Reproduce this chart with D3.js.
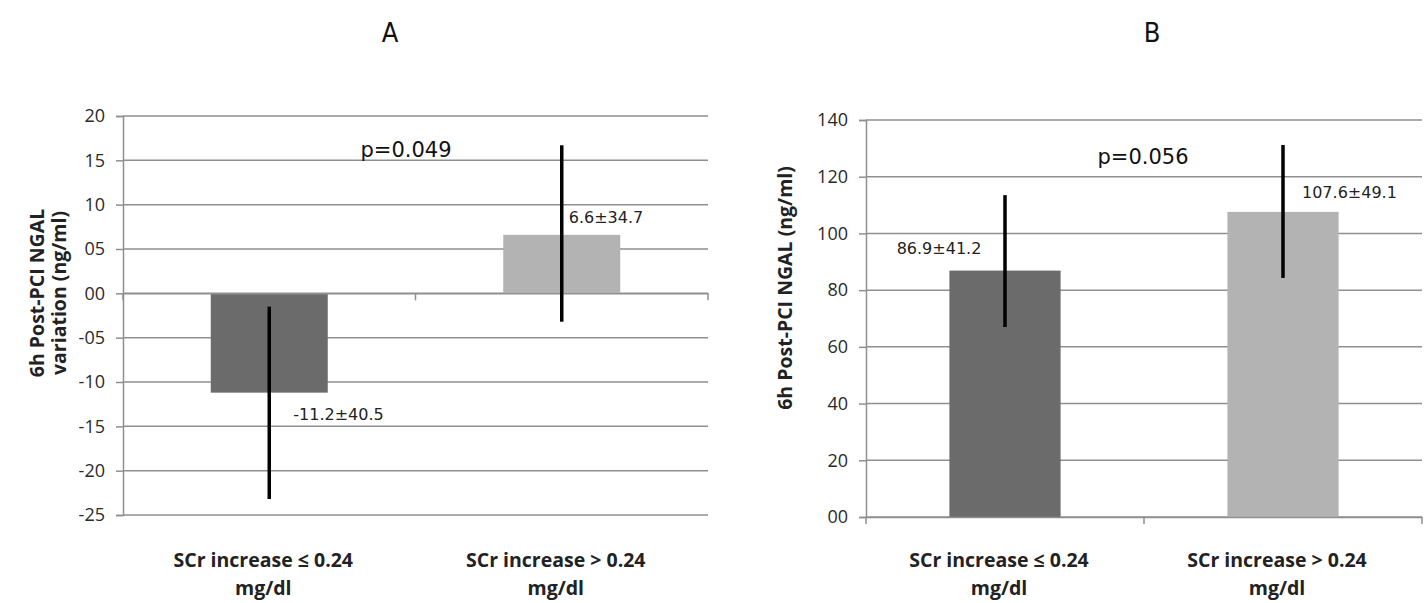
<!DOCTYPE html>
<html>
<head>
<meta charset="utf-8">
<script src="https://cdn.jsdelivr.net/npm/d3@7"></script>
<style>
	body { margin: 0; background: #fff; }
	svg { display: block; font-family: "Open Sans", Lato, sans-serif; }
</style>
</head>
<body>
<div id="chart"></div>
<script>
(function () {
	'use strict';

	// categories (two text lines each)
	var catLine1 = ["SCr increase \u2264 0.24", "SCr increase > 0.24"];
	var catLine2 = ["mg/dl", "mg/dl"];

	// panel A: variation
	var valuesA = [-11.2, 6.6];
	var errLowA = [-23.2, -3.2];
	var errHighA = [-1.5, 16.7];
	var labelsA = ["-11.2\u00b140.5", "6.6\u00b134.7"];
	var ticksA = [-25, -20, -15, -10, -5, 0, 5, 10, 15, 20];
	var tickLabelsA = ["-25", "-20", "-15", "-10", "-05", "00", "05", "10", "15", "20"];

	// panel B: absolute value
	var valuesB = [86.9, 107.6];
	var errLowB = [67, 84.3];
	var errHighB = [113.5, 131.2];
	var labelsB = ["86.9\u00b141.2", "107.6\u00b149.1"];
	var ticksB = [0, 20, 40, 60, 80, 100, 120, 140];
	var tickLabelsB = ["00", "20", "40", "60", "80", "100", "120", "140"];

	var barColors = ["#6b6b6b", "#b3b3b3"];
	var gridColor = "#8f8f8f";

	var svg = d3.select("#chart")
		.append("svg")
		.attr("width", 1427)
		.attr("height", 603);

	var panels = [
		{
			title: "A", titleX: 390,
			pText: "p=0.049", pX: 406, pY: 157,
			values: valuesA, low: errLowA, high: errHighA, labels: labelsA,
			ticks: ticksA, tickLabels: tickLabelsA,
			x0: 123, x1: 708, yTop: 116, yBottom: 515,
			yTitle: ["6h Post-PCI NGAL", "variation (ng/ml)"], yTitleX: 44, yTitleY: 293,
			// label offsets from error bar / bar end
			labelDx: [24, 7], labelDy: [27, -12], labelAnchor: ["start", "start"]
		},
		{
			title: "B", titleX: 1152,
			pText: "p=0.056", pX: 1143, pY: 164,
			values: valuesB, low: errLowB, high: errHighB, labels: labelsB,
			ticks: ticksB, tickLabels: tickLabelsB,
			x0: 866, x1: 1422, yTop: 120, yBottom: 517,
			yTitle: ["6h Post-PCI NGAL (ng/ml)"], yTitleX: 792, yTitleY: 288,
			labelDx: [-66, 19], labelDy: [-17, -14], labelAnchor: ["middle", "start"]
		}
	];

	panels.forEach(drawPanel);

	function drawPanel(p) {
		var g = svg.append("g");
		var x = d3.scaleBand().domain(catLine1).range([p.x0, p.x1]).padding(0);
		var y = d3.scaleLinear()
			.domain([p.ticks[0], p.ticks[p.ticks.length - 1]])
			.range([p.yBottom, p.yTop]);
		var bw = x.bandwidth() * 0.4;
		var zero = y(Math.max(0, p.ticks[0]));

		// gridlines
		g.selectAll("line.grid").data(p.ticks).enter()
			.append("line")
			.attr("x1", p.x0).attr("x2", p.x1)
			.attr("y1", y).attr("y2", y)
			.attr("stroke", gridColor)
			.attr("stroke-width", 1.5);

		// y axis
		var yAxis = d3.axisLeft(y)
			.tickValues(p.ticks)
			.tickSize(7)
			.tickPadding(11)
			.tickFormat(function (d, i) { return p.tickLabels[i]; });
		var ya = g.append("g").attr("transform", "translate(" + p.x0 + ",0)").call(yAxis);
		ya.select(".domain").attr("stroke", gridColor).attr("stroke-width", 1.5);
		ya.selectAll(".tick line").attr("stroke", gridColor).attr("stroke-width", 1.5);
		ya.selectAll(".tick text")
			.style("font-size", "18px")
			.style("font-family", "'Open Sans', sans-serif")
			.attr("fill", "#2a2a2a");

		// bars
		g.selectAll("rect.bar").data(p.values).enter()
			.append("rect")
			.attr("x", function (d, i) { return x(catLine1[i]) + (x.bandwidth() - bw) / 2; })
			.attr("y", function (d) { return Math.min(y(d), zero); })
			.attr("width", bw)
			.attr("height", function (d) { return Math.abs(y(d) - zero); })
			.attr("fill", function (d, i) { return barColors[i]; });

		// x axis along zero
		var xAxis = d3.axisBottom(x).tickSize(0).tickFormat("");
		var xa = g.append("g").attr("transform", "translate(0," + zero + ")").call(xAxis);
		xa.select(".domain").attr("stroke", gridColor).attr("stroke-width", 1.5);
		var bounds = [p.x0, (p.x0 + p.x1) / 2, p.x1];
		g.selectAll("line.xtick").data(bounds).enter()
			.append("line")
			.attr("x1", function (d) { return d; }).attr("x2", function (d) { return d; })
			.attr("y1", zero).attr("y2", zero + 7)
			.attr("stroke", gridColor)
			.attr("stroke-width", 1.5);

		// error bars
		var cx = function (i) { return x(catLine1[i]) + x.bandwidth() / 2; };
		g.selectAll("line.err").data(p.values).enter()
			.append("line")
			.attr("x1", function (d, i) { return cx(i); })
			.attr("x2", function (d, i) { return cx(i); })
			.attr("y1", function (d, i) { return y(p.high[i]); })
			.attr("y2", function (d, i) { return y(p.low[i]); })
			.attr("stroke", "#000")
			.attr("stroke-width", 3.5);

		// value labels
		g.selectAll("text.val").data(p.labels).enter()
			.append("text")
			.attr("x", function (d, i) { return cx(i) + p.labelDx[i]; })
			.attr("y", function (d, i) { return y(p.values[i]) + p.labelDy[i]; })
			.attr("text-anchor", function (d, i) { return p.labelAnchor[i]; })
			.style("font-size", "16px")
			.style("font-family", "'DejaVu Sans', sans-serif")
			.attr("fill", "#222")
			.text(function (d) { return d; });

		// p value
		g.append("text")
			.attr("x", p.pX).attr("y", p.pY)
			.attr("text-anchor", "middle")
			.style("font-size", "21px")
			.style("font-family", "'DejaVu Sans', sans-serif")
			.attr("fill", "#111")
			.text(p.pText);

		// panel title
		g.append("text")
			.attr("x", p.titleX).attr("y", 42)
			.attr("text-anchor", "middle")
			.style("font-size", "27px")
			.style("font-family", "'Liberation Sans Narrow', 'DejaVu Sans Condensed', sans-serif")
			.attr("fill", "#111")
			.text(p.title);

		// y title
		var yt = g.append("text")
			.attr("transform", "translate(" + p.yTitleX + "," + p.yTitleY + ") rotate(-90)")
			.attr("text-anchor", "middle")
			.style("font-size", "19.5px")
			.style("font-weight", "bold")
			.attr("fill", "#222");
		p.yTitle.forEach(function (line, i) {
			yt.append("tspan").attr("x", 0).attr("dy", i === 0 ? 0 : 22).text(line);
		});

		// category labels
		var cl = g.selectAll("text.cat").data(catLine1).enter()
			.append("text")
			.attr("text-anchor", "middle")
			.attr("transform", function (d) { return "translate(" + (x(d) + x.bandwidth() / 2 - 6) + ",567)"; })
			.style("font-size", "19.5px")
			.style("font-weight", "bold")
			.attr("fill", "#222");
		cl.append("tspan").attr("x", 0).attr("y", 0).text(function (d) { return d; });
		cl.append("tspan").attr("x", 0).attr("y", 28).text(function (d, i) { return catLine2[i]; });
	}
}());
</script>
</body>
</html>
